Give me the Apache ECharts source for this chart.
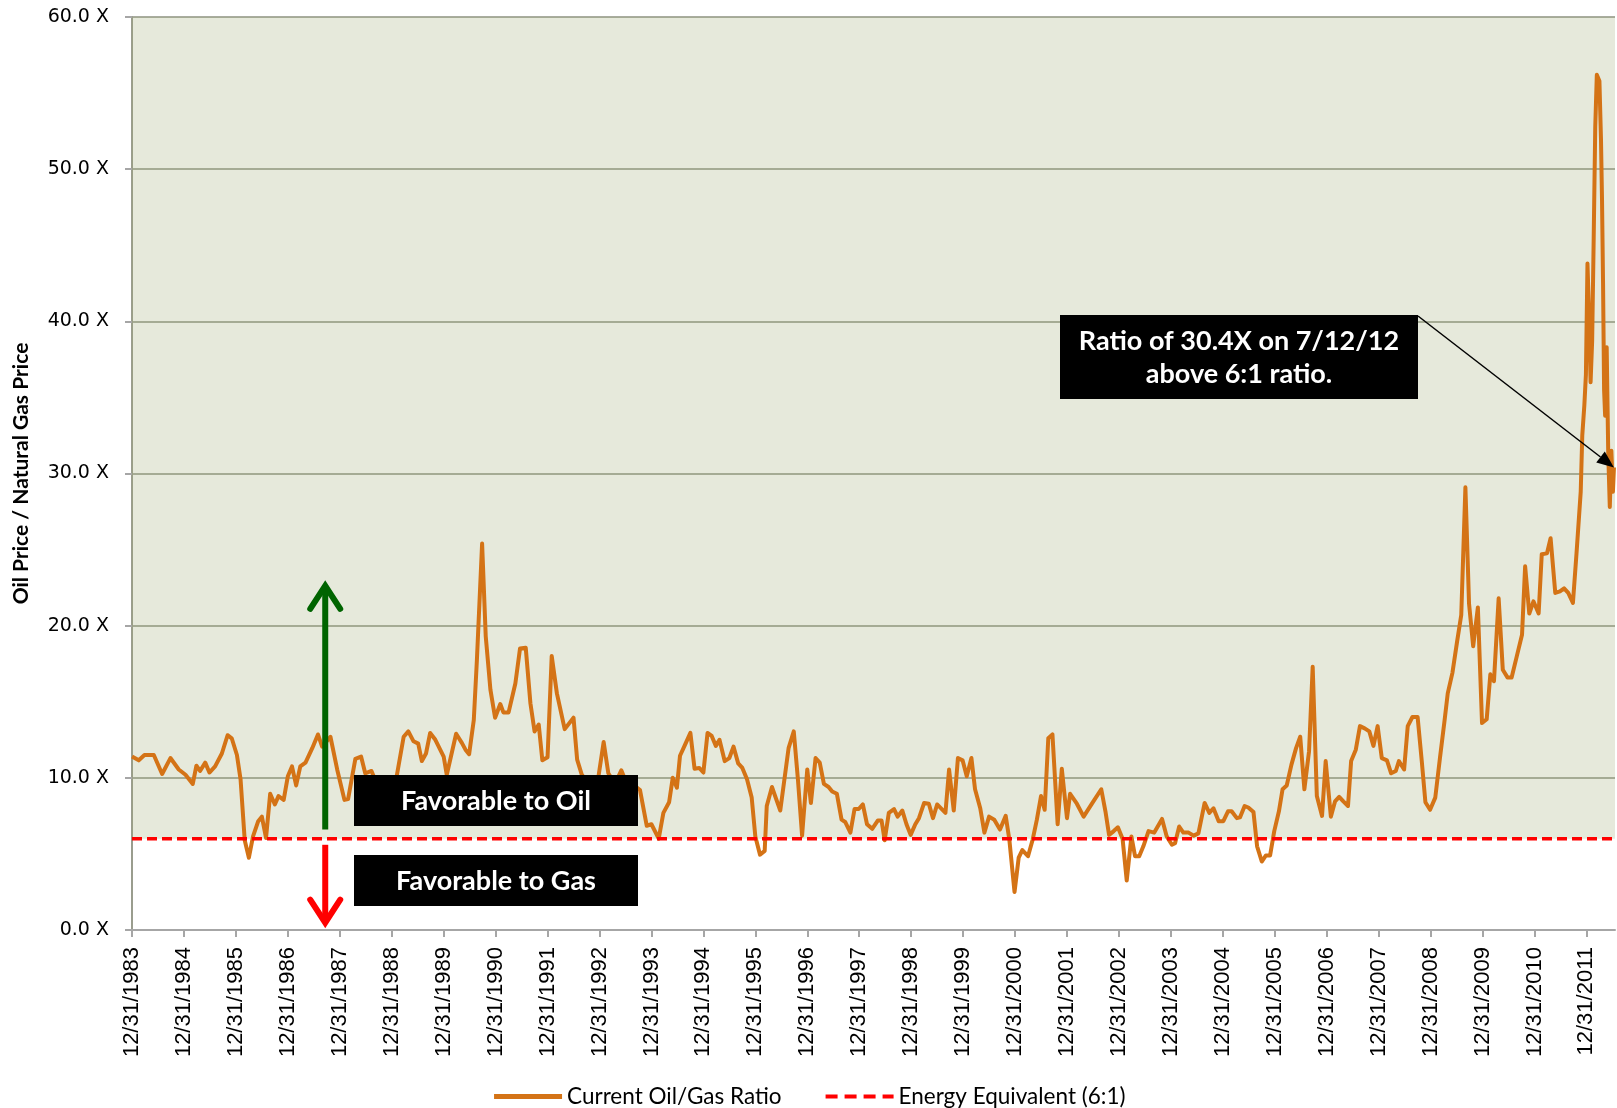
<!DOCTYPE html>
<html>
<head>
<meta charset="utf-8">
<title>Oil / Natural Gas Price Ratio</title>
<script src="https://cdn.jsdelivr.net/npm/echarts@6/dist/echarts.min.js"></script>
<style>
    html, body { margin: 0; padding: 0; background: #fff; }
    #main { width: 1617px; height: 1108px; }
</style>
</head>
<body>
<div id="main"></div>
<script>
    // x = decimal year, 1984.0 sits on the 12/31/1983 tick
    var oilGasRatio = [
        [1984.00, 11.4], [1984.13, 11.15], [1984.24, 11.5], [1984.42, 11.5], [1984.58, 10.25], [1984.74, 11.3],
        [1984.90, 10.55], [1985.03, 10.2], [1985.17, 9.6], [1985.24, 10.8], [1985.31, 10.45], [1985.41, 11.0],
        [1985.49, 10.35], [1985.60, 10.75], [1985.73, 11.6], [1985.84, 12.8], [1985.92, 12.6], [1986.02, 11.5],
        [1986.09, 9.9], [1986.17, 5.9], [1986.25, 4.75], [1986.33, 6.15], [1986.43, 7.15], [1986.50, 7.45],
        [1986.58, 6.05], [1986.66, 8.95], [1986.75, 8.25], [1986.82, 8.8], [1986.92, 8.55], [1987.00, 10.1],
        [1987.08, 10.75], [1987.16, 9.5], [1987.24, 10.75], [1987.34, 11.0], [1987.47, 11.95], [1987.58, 12.85],
        [1987.66, 12.05], [1987.82, 12.7], [1987.95, 10.55], [1988.09, 8.55], [1988.16, 8.6], [1988.30, 11.25],
        [1988.41, 11.4], [1988.49, 10.3], [1988.61, 10.45], [1988.75, 9.3], [1988.92, 8.8], [1989.08, 9.8],
        [1989.23, 12.7], [1989.32, 13.05], [1989.42, 12.4], [1989.51, 12.25], [1989.58, 11.1], [1989.66, 11.6],
        [1989.74, 12.95], [1989.84, 12.5], [1990.00, 11.4], [1990.06, 10.2], [1990.24, 12.9], [1990.35, 12.3],
        [1990.42, 11.85], [1990.49, 11.55], [1990.58, 13.8], [1990.64, 17.75], [1990.74, 25.4], [1990.81, 19.3],
        [1990.90, 15.8], [1990.99, 13.95], [1991.09, 14.85], [1991.15, 14.3], [1991.25, 14.3], [1991.38, 16.2],
        [1991.47, 18.5], [1991.58, 18.55], [1991.67, 14.9], [1991.75, 13.05], [1991.83, 13.5], [1991.90, 11.15],
        [1992.00, 11.35], [1992.08, 18.0], [1992.18, 15.55], [1992.33, 13.2], [1992.50, 13.95], [1992.57, 11.2],
        [1992.66, 10.2], [1992.80, 9.6], [1992.95, 9.4], [1993.08, 12.35], [1993.17, 10.3], [1993.30, 9.6],
        [1993.42, 10.5], [1993.55, 9.4], [1993.67, 9.5], [1993.78, 9.2], [1993.91, 6.85], [1994.00, 6.95],
        [1994.14, 6.0], [1994.23, 7.7], [1994.34, 8.4], [1994.41, 10.0], [1994.49, 9.35], [1994.55, 11.45],
        [1994.65, 12.2], [1994.75, 12.95], [1994.83, 10.6], [1994.92, 10.65], [1995.00, 10.35], [1995.08, 12.95],
        [1995.16, 12.75], [1995.24, 12.1], [1995.31, 12.5], [1995.41, 11.1], [1995.50, 11.3], [1995.58, 12.05],
        [1995.67, 10.95], [1995.75, 10.65], [1995.84, 9.9], [1995.93, 8.7], [1996.00, 6.15], [1996.09, 4.95],
        [1996.18, 5.2], [1996.22, 8.15], [1996.32, 9.4], [1996.48, 7.85], [1996.64, 11.95], [1996.74, 13.05],
        [1996.82, 9.9], [1996.90, 6.2], [1997.00, 10.55], [1997.07, 8.35], [1997.16, 11.3], [1997.24, 11.0],
        [1997.32, 9.6], [1997.41, 9.4], [1997.48, 9.1], [1997.57, 8.95], [1997.66, 7.25], [1997.73, 7.1],
        [1997.83, 6.4], [1997.91, 7.95], [1997.99, 7.95], [1998.07, 8.25], [1998.15, 6.95], [1998.25, 6.65],
        [1998.36, 7.2], [1998.43, 7.2], [1998.49, 5.9], [1998.57, 7.7], [1998.67, 7.95], [1998.74, 7.45],
        [1998.83, 7.85], [1998.91, 6.95], [1998.99, 6.25], [1999.08, 6.95], [1999.15, 7.35], [1999.25, 8.35],
        [1999.34, 8.3], [1999.42, 7.35], [1999.50, 8.25], [1999.66, 7.7], [1999.73, 10.55], [1999.82, 7.85],
        [1999.90, 11.3], [1999.99, 11.15], [2000.07, 10.1], [2000.16, 11.3], [2000.23, 9.25], [2000.33, 8.0],
        [2000.41, 6.4], [2000.50, 7.45], [2000.60, 7.25], [2000.71, 6.6], [2000.82, 7.5], [2000.89, 5.95],
        [2000.99, 2.5], [2001.07, 4.75], [2001.14, 5.25], [2001.25, 4.85], [2001.34, 5.95], [2001.42, 7.25],
        [2001.50, 8.8], [2001.57, 7.9], [2001.64, 12.6], [2001.72, 12.85], [2001.82, 6.95], [2001.90, 10.6],
        [2002.00, 7.35], [2002.06, 8.95], [2002.19, 8.3], [2002.32, 7.45], [2002.48, 8.3], [2002.66, 9.25],
        [2002.74, 7.8], [2002.81, 6.25], [2002.90, 6.5], [2002.98, 6.75], [2003.07, 6.0], [2003.15, 3.25],
        [2003.24, 6.15], [2003.31, 4.85], [2003.39, 4.85], [2003.47, 5.5], [2003.57, 6.5], [2003.68, 6.4],
        [2003.83, 7.3], [2003.92, 6.15], [2004.02, 5.6], [2004.08, 5.7], [2004.16, 6.8], [2004.24, 6.4],
        [2004.34, 6.4], [2004.44, 6.2], [2004.53, 6.35], [2004.65, 8.35], [2004.74, 7.7], [2004.82, 8.0],
        [2004.92, 7.15], [2005.01, 7.15], [2005.10, 7.8], [2005.17, 7.8], [2005.27, 7.35], [2005.33, 7.4],
        [2005.42, 8.15], [2005.49, 8.05], [2005.59, 7.75], [2005.66, 5.5], [2005.75, 4.5], [2005.83, 4.9],
        [2005.91, 4.9], [2005.99, 6.5], [2006.08, 7.8], [2006.15, 9.25], [2006.23, 9.5], [2006.32, 10.85],
        [2006.41, 11.95], [2006.49, 12.7], [2006.57, 9.25], [2006.66, 11.75], [2006.73, 17.3], [2006.81, 8.8],
        [2006.91, 7.5], [2006.98, 11.1], [2007.08, 7.45], [2007.16, 8.45], [2007.24, 8.75], [2007.32, 8.45],
        [2007.41, 8.15], [2007.47, 11.1], [2007.56, 11.85], [2007.64, 13.4], [2007.73, 13.25], [2007.82, 13.05],
        [2007.90, 12.1], [2007.98, 13.4], [2008.06, 11.3], [2008.16, 11.15], [2008.24, 10.3], [2008.33, 10.45],
        [2008.39, 11.1], [2008.49, 10.55], [2008.56, 13.4], [2008.65, 14.0], [2008.75, 14.0], [2008.83, 11.1],
        [2008.90, 8.4], [2008.99, 7.9], [2009.09, 8.7], [2009.18, 11.3], [2009.27, 13.8], [2009.33, 15.55],
        [2009.42, 16.9], [2009.51, 18.95], [2009.59, 20.7], [2009.67, 29.1], [2009.74, 21.45], [2009.82, 18.65],
        [2009.91, 21.2], [2009.99, 13.6], [2010.08, 13.85], [2010.15, 16.8], [2010.22, 16.35], [2010.31, 21.8],
        [2010.39, 17.1], [2010.48, 16.6], [2010.56, 16.6], [2010.66, 18.0], [2010.76, 19.4], [2010.82, 23.9],
        [2010.90, 20.8], [2010.98, 21.6], [2011.08, 20.8], [2011.14, 24.7], [2011.24, 24.75], [2011.31, 25.75],
        [2011.40, 22.15], [2011.49, 22.25], [2011.57, 22.45], [2011.65, 22.15], [2011.74, 21.5], [2011.81, 24.8],
        [2011.89, 28.8], [2011.92, 32.5], [2011.96, 34.5], [2011.99, 36.5], [2012.02, 43.8], [2012.05, 40.5],
        [2012.08, 36.0], [2012.11, 38.7], [2012.14, 45.5], [2012.17, 52.8], [2012.20, 56.2], [2012.25, 55.8],
        [2012.28, 52.0], [2012.30, 48.0], [2012.32, 42.5], [2012.34, 35.5], [2012.36, 33.8], [2012.39, 38.3],
        [2012.42, 31.3], [2012.45, 27.8], [2012.48, 31.5], [2012.51, 28.8], [2012.53, 30.4]
    ];
    var energyEquivalent = 6;
    var xStart = 1984, xEnd = 2012.55;
    var tickYears = [1984, 1985, 1986, 1987, 1988, 1989, 1990, 1991, 1992, 1993, 1994, 1995, 1996, 1997, 1998,
        1999, 2000, 2001, 2002, 2003, 2004, 2005, 2006, 2007, 2008, 2009, 2010, 2011, 2012];
    var tickLabels = ['12/31/1983', '12/31/1984', '12/31/1985', '12/31/1986', '12/31/1987', '12/31/1988',
        '12/31/1989', '12/31/1990', '12/31/1991', '12/31/1992', '12/31/1993', '12/31/1994', '12/31/1995',
        '12/31/1996', '12/31/1997', '12/31/1998', '12/31/1999', '12/31/2000', '12/31/2001', '12/31/2002',
        '12/31/2003', '12/31/2004', '12/31/2005', '12/31/2006', '12/31/2007', '12/31/2008', '12/31/2009',
        '12/31/2010', '12/31/2011'];

    var chart = echarts.init(document.getElementById('main'));
    var calibri = 'Lato, "Open Sans", sans-serif';

    var option = {
        animation: false,
        backgroundColor: '#ffffff',
        grid: { left: 132, right: 2, top: 17, bottom: 178 },
        legend: {
            data: [
                { name: 'Current Oil/Gas Ratio', lineStyle: { width: 5 } },
                { name: 'Energy Equivalent (6:1)', lineStyle: { width: 4, type: [12, 7] } }
            ],
            left: 'center',
            top: 1080,
            itemWidth: 68,
            itemHeight: 14,
            itemGap: 42,
            itemStyle: { opacity: 0 },
            textStyle: { fontFamily: calibri, fontSize: 22.5, color: '#000' }
        },
        xAxis: {
            type: 'value',
            min: xStart,
            max: xEnd,
            interval: 1,
            splitLine: { show: false },
            axisLine: { lineStyle: { color: '#a6a6a6', width: 2 } },
            axisTick: { customValues: tickYears, length: 7, lineStyle: { color: '#a6a6a6', width: 2 } },
            axisLabel: {
                customValues: tickYears,
                rotate: 90,
                margin: 17,
                fontFamily: '"Liberation Sans", Arial, sans-serif',
                fontSize: 22,
                color: '#000',
                formatter: function (v) {
                    var i = tickYears.indexOf(Math.round(v * 100) / 100);
                    return i < 0 ? '' : tickLabels[i];
                }
            }
        },
        yAxis: {
            type: 'value',
            min: 0,
            max: 60,
            interval: 10,
            name: 'Oil Price / Natural Gas Price',
            nameLocation: 'middle',
            nameGap: 100,
            nameTextStyle: { fontFamily: calibri, fontWeight: 'bold', fontSize: 21, color: '#000' },
            axisLine: { show: true, lineStyle: { color: '#9a9d8e', width: 2 } },
            axisTick: { show: true, length: 7, lineStyle: { color: '#a6a6a6', width: 2 } },
            splitLine: { lineStyle: { color: '#8c9080', width: 1.5 } },
            axisLabel: {
                margin: 23,
                fontFamily: '"DejaVu Sans", sans-serif',
                fontSize: 19,
                color: '#000',
                formatter: function (v) { return v.toFixed(1) + ' X'; }
            }
        },
        series: [
            {
                // shaded "favorable to oil" band, translucent so the grid lines show through
                name: 'band',
                type: 'line',
                z: 1,
                silent: true,
                symbol: 'none',
                lineStyle: { opacity: 0 },
                data: [[xStart, energyEquivalent], [xEnd, energyEquivalent]],
                markArea: {
                    silent: true,
                    itemStyle: { color: 'rgba(155,167,111,0.25)' },
                    data: [[{ yAxis: energyEquivalent }, { yAxis: 60 }]]
                }
            },
            {
                name: 'Current Oil/Gas Ratio',
                type: 'line',
                z: 3,
                symbol: 'none',
                lineStyle: { color: '#d47316', width: 4, join: 'round' },
                itemStyle: { color: '#d47316' },
                data: oilGasRatio
            },
            {
                name: 'Energy Equivalent (6:1)',
                type: 'line',
                z: 4,
                symbol: 'none',
                lineStyle: { color: '#ff0000', width: 3.5, type: [10, 5] },
                itemStyle: { color: '#ff0000' },
                data: [[xStart, energyEquivalent], [xEnd, energyEquivalent]]
            }
        ]
    };
    chart.setOption(option);

    //标注：箭头、黑底文字框
    function px(x, y) { return chart.convertToPixel({ gridIndex: 0 }, [x, y]); }
    var arrowYear = 1987.72;
    var gBot = px(arrowYear, 6.6), gTip = px(arrowYear, 22.75);
    var rTop = px(arrowYear, 5.6), rTip = px(arrowYear, 0.35);
    var last = oilGasRatio[oilGasRatio.length - 1];
    var tip = px(last[0], last[1]);
    var from = [1418, 316];
    var dx = tip[0] - from[0], dy = tip[1] - from[1], len = Math.sqrt(dx * dx + dy * dy);
    var ux = dx / len, uy = dy / len;
    var headL = 17, headW = 7;
    var base = [tip[0] - ux * headL, tip[1] - uy * headL];

    var boxText = { fill: '#fff', font: 'bold 27px ' + calibri, align: 'center', verticalAlign: 'middle' };
    function textStyle(t, x, y) {
        return Object.assign({ text: t, x: x, y: y }, boxText);
    }

    chart.setOption({
        graphic: [
            { type: 'line', z: 50, shape: { x1: gBot[0], y1: gBot[1], x2: gTip[0], y2: gTip[1] + 2 },
              style: { stroke: '#006400', lineWidth: 6 } },
            { type: 'polyline', z: 50, shape: { points: [[gTip[0] - 15, gTip[1] + 25], [gTip[0], gTip[1] + 2], [gTip[0] + 15, gTip[1] + 25]] },
              style: { stroke: '#006400', lineWidth: 6, lineCap: 'round', fill: null } },
            { type: 'line', z: 50, shape: { x1: rTop[0], y1: rTop[1], x2: rTip[0], y2: rTip[1] - 2 },
              style: { stroke: '#ff0000', lineWidth: 6 } },
            { type: 'polyline', z: 50, shape: { points: [[rTip[0] - 15, rTip[1] - 25], [rTip[0], rTip[1] - 2], [rTip[0] + 15, rTip[1] - 25]] },
              style: { stroke: '#ff0000', lineWidth: 6, lineCap: 'round', fill: null } },

            { type: 'rect', z: 60, shape: { x: 354, y: 775, width: 284, height: 51 }, style: { fill: '#000' } },
            { type: 'text', z: 61, style: textStyle('Favorable to Oil', 496, 801) },
            { type: 'rect', z: 60, shape: { x: 354, y: 855, width: 284, height: 51 }, style: { fill: '#000' } },
            { type: 'text', z: 61, style: textStyle('Favorable to Gas', 496, 881) },

            { type: 'rect', z: 60, shape: { x: 1060, y: 315, width: 358, height: 84 }, style: { fill: '#000' } },
            { type: 'text', z: 61, style: Object.assign(textStyle('Ratio of 30.4X on 7/12/12\nabove 6:1 ratio.', 1239, 358), { lineHeight: 33 }) },
            { type: 'line', z: 62, shape: { x1: from[0], y1: from[1], x2: base[0], y2: base[1] },
              style: { stroke: '#000', lineWidth: 1.5 } },
            { type: 'polygon', z: 62, shape: { points: [tip,
                    [base[0] - uy * headW, base[1] + ux * headW],
                    [base[0] + uy * headW, base[1] - ux * headW]] },
              style: { fill: '#000' } }
        ]
    });
</script>
</body>
</html>
